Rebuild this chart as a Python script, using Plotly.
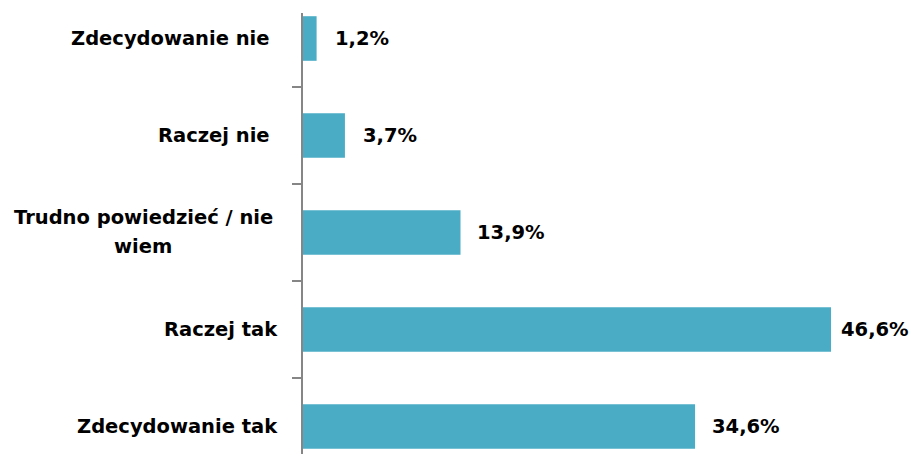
import plotly.graph_objects as go

categories = ["Zdecydowanie nie", "Raczej nie", "Trudno powiedzieć / nie<br>wiem", "Raczej tak", "Zdecydowanie tak"]
values = [1.2, 3.7, 13.9, 46.6, 34.6]
value_labels = ["1,2%", "3,7%", "13,9%", "46,6%", "34,6%"]

# style lists (offsets in px from the axis; multi-line labels are centred at the offset)
label_shift = [-31, -31, -160, -23, -23]
value_shift = [16, 16, 14, 8, 15]
LINE_GAP = 29

FONT = dict(family="DejaVu Sans", size=19.5, color="#000000")
positions = list(range(len(categories)))

fig = go.Figure()
fig.add_trace(go.Bar(
    x=values, y=positions, orientation="h",
    marker=dict(color="#4BACC6", line=dict(width=0)),
    width=0.46, hoverinfo="skip",
))

annotations = []
for i, cat in enumerate(categories):
    lines = cat.split("<br>")
    n = len(lines)
    for k, line in enumerate(lines):
        annotations.append(dict(
            x=0, xref="paper", y=positions[i], yref="y",
            text="<b>" + line + "</b>", showarrow=False,
            xanchor="center" if n > 1 else "right",
            yanchor="middle", align="center",
            xshift=label_shift[i], yshift=((n - 1) / 2 - k) * LINE_GAP,
            font=FONT,
        ))
    annotations.append(dict(
        x=values[i], xref="x", y=positions[i], yref="y",
        text="<b>" + value_labels[i] + "</b>", showarrow=False,
        xanchor="left", yanchor="middle",
        xshift=value_shift[i], font=FONT,
    ))

fig.update_layout(
    width=909, height=454,
    margin=dict(l=303, r=0, t=13, b=0, pad=0),
    paper_bgcolor="white", plot_bgcolor="white",
    showlegend=False,
    annotations=annotations,
    xaxis=dict(range=[0, 53.48], visible=False, showgrid=False, zeroline=False),
    yaxis=dict(
        range=[4.284, -0.263], showgrid=False, zeroline=False,
        showline=True, linecolor="#868686", linewidth=2,
        tickmode="array", tickvals=[p + 0.5 for p in positions[:-1]],
        ticktext=["" for _ in positions[:-1]],
        ticks="outside", ticklen=9, tickwidth=2, tickcolor="#868686",
    ),
)

fig.write_html(
    "out.html",
    config={"displayModeBar": False},
    post_script="document.body.style.margin='0';document.body.style.overflow='hidden';",
)
